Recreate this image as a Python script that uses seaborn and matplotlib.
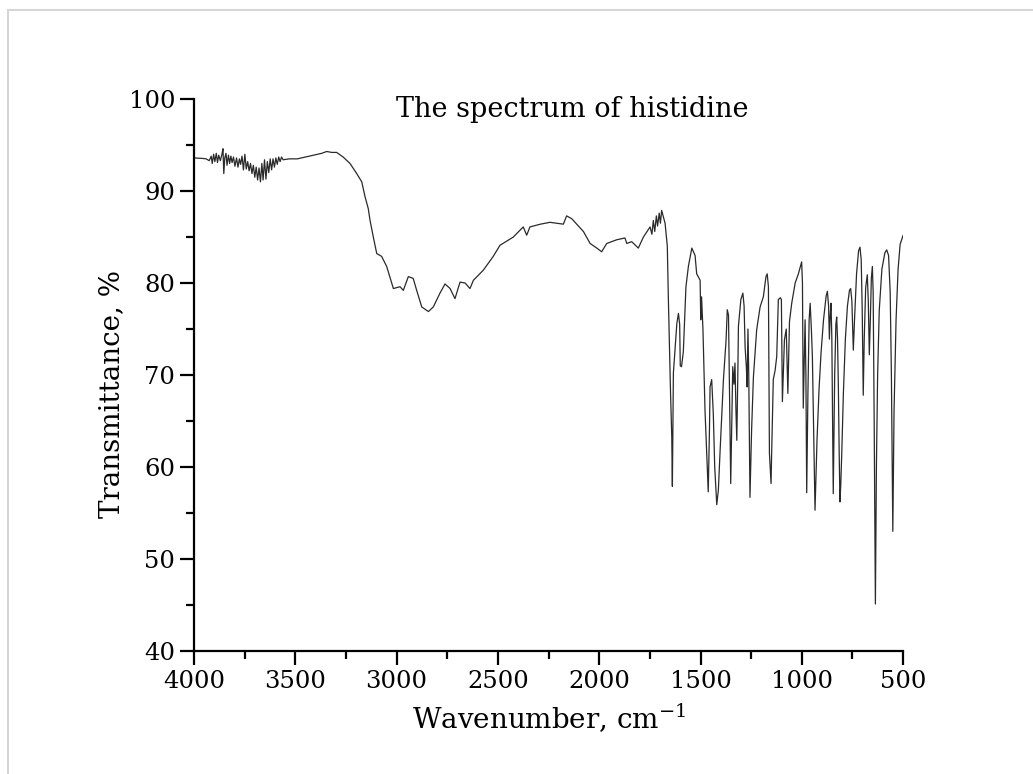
import matplotlib
matplotlib.use("Agg")
import matplotlib.pyplot as plt
import seaborn as sns
import pandas as pd
from matplotlib.patches import Rectangle
from matplotlib.ticker import MultipleLocator

wavenumber = [
    4000, 3960, 3940, 3925, 3915, 3910, 3903, 3897, 3890, 3884, 3878, 3870, 3862, 3857, 3853,
    3848, 3842, 3837, 3830, 3824, 3818, 3812, 3805, 3798, 3790, 3783, 3776, 3770, 3763, 3756,
    3749, 3742, 3735, 3728, 3721, 3714, 3707, 3700, 3693, 3686, 3679, 3672, 3665, 3659, 3652,
    3645, 3638, 3631, 3624, 3617, 3610, 3603, 3596, 3589, 3582, 3575, 3568, 3560, 3530, 3490,
    3450, 3410, 3370, 3345, 3320, 3296, 3264, 3230, 3197, 3172, 3156, 3140, 3131, 3115, 3098,
    3074, 3049, 3024, 3016, 2983, 2967, 2942, 2918, 2901, 2876, 2843, 2819, 2786, 2761, 2736,
    2712, 2687, 2662, 2638, 2621, 2572, 2523, 2490, 2424, 2375, 2358, 2342, 2290, 2243, 2177,
    2161, 2136, 2078, 2045, 2012, 1988, 1963, 1914, 1873, 1864, 1840, 1807, 1782, 1749, 1740,
    1733, 1726, 1718, 1712, 1704, 1698, 1692, 1675, 1664, 1659, 1648, 1642, 1639, 1634, 1617,
    1609, 1603, 1600, 1594, 1585, 1572, 1560, 1543, 1527, 1519, 1502, 1499, 1495, 1488, 1478,
    1469, 1462, 1456, 1453, 1445, 1437, 1430, 1420, 1412, 1404, 1387, 1374, 1368, 1362, 1358,
    1351, 1345, 1341, 1335, 1330, 1325, 1321, 1316, 1313, 1301, 1291, 1285, 1280, 1274, 1270,
    1266, 1262, 1256, 1248, 1239, 1223, 1206, 1190, 1177, 1171, 1165, 1160, 1152, 1149, 1141,
    1132, 1124, 1116, 1106, 1101, 1096, 1086, 1077, 1069, 1061, 1050, 1033, 1017, 1001, 997,
    993, 988, 984, 980, 976, 970, 964, 959, 953, 948, 942, 935, 925, 915, 905,
    893, 880, 874, 868, 864, 860, 856, 852, 845, 838, 832, 828, 824, 820, 816,
    812, 808, 803, 795, 785, 775, 765, 759, 753, 746, 740, 730, 720, 713, 707,
    702, 697, 692, 685, 677, 672, 667, 662, 657, 652, 648, 643, 637, 632, 626,
    618, 605, 590, 581, 572, 564, 558, 551, 545, 535, 525, 515, 500,
]

transmittance = [
    93.6, 93.55, 93.5, 93.3, 93.8, 93.0, 94.0, 93.2, 94.1, 93.1, 93.9, 93.3, 94.0, 94.6, 91.9,
    93.6, 94.1, 92.8, 93.9, 93.0, 93.8, 93.1, 93.7, 92.7, 93.6, 92.6, 93.5, 92.9, 93.8, 92.3,
    94.0, 92.4, 93.2, 92.2, 93.0, 91.9, 92.8, 91.5, 92.6, 91.2, 92.5, 91.0, 93.0, 91.2, 93.4,
    91.3, 93.2, 92.0, 93.5, 92.3, 93.5, 92.6, 93.6, 92.9, 93.7, 93.2, 93.7, 93.4, 93.5, 93.5,
    93.7, 93.9, 94.1, 94.3, 94.2, 94.2, 93.7, 93.0, 91.9, 91.0, 89.4, 88.1, 86.8, 85.0, 83.2,
    82.9, 81.8, 80.0, 79.4, 79.6, 79.2, 80.7, 80.5, 79.2, 77.4, 76.9, 77.4, 78.9, 79.9, 79.4,
    78.3, 80.1, 80.0, 79.4, 80.3, 81.4, 82.9, 84.1, 85.0, 86.1, 85.2, 86.1, 86.4, 86.6, 86.4,
    87.3, 87.0, 85.6, 84.3, 83.8, 83.4, 84.3, 84.7, 84.9, 84.3, 84.5, 83.8, 85.0, 86.1, 85.3,
    86.8, 85.6, 87.3, 86.2, 87.6, 86.5, 87.9, 86.5, 84.0, 78.5, 68.0, 63.3, 57.9, 70.2, 75.6,
    76.7, 75.5, 71.0, 70.9, 72.5, 79.6, 81.8, 83.8, 83.0, 81.0, 80.3, 76.0, 78.5, 74.9, 66.2,
    61.1, 57.3, 64.0, 68.7, 69.5, 65.8, 60.0, 55.9, 57.5, 61.5, 69.5, 73.8, 77.1, 76.5, 70.0,
    58.2, 66.0, 70.9, 69.0, 71.3, 66.0, 62.9, 70.0, 75.3, 78.2, 78.9, 77.5, 73.0, 70.9, 68.7,
    75.0, 70.0, 56.7, 64.0, 69.8, 74.9, 77.4, 78.5, 80.7, 81.0, 79.6, 61.5, 58.2, 61.5, 69.5,
    70.5, 72.0, 78.2, 78.4, 78.2, 67.1, 73.8, 75.0, 68.0, 75.8, 77.8, 80.0, 81.0, 82.3, 80.0,
    66.4, 72.0, 76.0, 70.0, 57.2, 68.0, 76.0, 77.8, 75.0, 72.0, 64.0, 55.3, 63.0, 68.5, 72.5,
    76.0, 78.6, 79.1, 77.5, 73.9, 76.5, 77.8, 74.0, 57.1, 70.0, 75.5, 76.3, 74.0, 69.1, 62.0,
    56.2, 58.0, 61.5, 68.0, 74.0, 77.5, 79.2, 79.4, 78.0, 72.7, 76.0, 81.0, 83.5, 83.9, 82.5,
    77.0, 67.8, 74.0, 79.5, 80.9, 78.0, 72.2, 76.0, 80.5, 81.8, 79.0, 65.0, 45.1, 60.0, 70.0,
    77.0, 81.5, 83.3, 83.6, 83.0, 79.0, 70.0, 53.0, 66.0, 76.0, 81.5, 84.2, 85.2,
]

x_ticks = [4000, 3500, 3000, 2500, 2000, 1500, 1000, 500]
y_ticks = [40, 50, 60, 70, 80, 90, 100]
title_text = "The spectrum of histidine"
x_label = "Wavenumber, cm$^{-1}$"
y_label = "Transmittance, %"

sns.set_style("ticks")
plt.rcParams["font.family"] = ["DejaVu Serif", "DejaVu Sans"]
plt.rcParams["mathtext.fontset"] = "dejavuserif"
plt.rcParams["text.color"] = "black"

df = pd.DataFrame({"wn": wavenumber, "T": transmittance})

fig = plt.figure(figsize=(10.33, 7.74), dpi=100, facecolor="white")
ax = fig.add_axes([0.1878, 0.159, 0.6865, 0.713])

sns.lineplot(data=df, x="wn", y="T", ax=ax, sort=False, estimator=None,
             color="#2a2a2a", linewidth=0.9)

ax.set_xlim(4000, 500)
ax.set_ylim(40, 100)
ax.set_xticks(x_ticks)
ax.set_yticks(y_ticks)
ax.xaxis.set_minor_locator(MultipleLocator(250))
ax.yaxis.set_minor_locator(MultipleLocator(5))
ax.tick_params(which="major", direction="out", length=10, width=1.6, labelsize=17.5,
               colors="black", labelcolor="black")
ax.tick_params(which="minor", direction="out", length=6, width=1.6, colors="black")
for s in ["top", "right"]:
    ax.spines[s].set_visible(False)
for s in ["left", "bottom"]:
    ax.spines[s].set_linewidth(1.6)
    ax.spines[s].set_color("black")

ax.set_xlabel("")
ax.set_ylabel("")
fig.text(0.532, 0.072, x_label, ha="center", va="center", fontsize=20, color="black")
fig.text(0.108, 0.491, y_label, ha="center", va="center", rotation=90, fontsize=20, color="black")
fig.text(0.554, 0.858, title_text, ha="center", va="center", fontsize=19.5, color="black")

fig.patches.append(Rectangle((8 / 1033, -0.05), 1.2, 1 - 10 / 774 + 0.05,
                             transform=fig.transFigure, fill=False,
                             edgecolor="#d6d6d6", linewidth=1.5))

fig.savefig("out.png", dpi=100, facecolor="white")
